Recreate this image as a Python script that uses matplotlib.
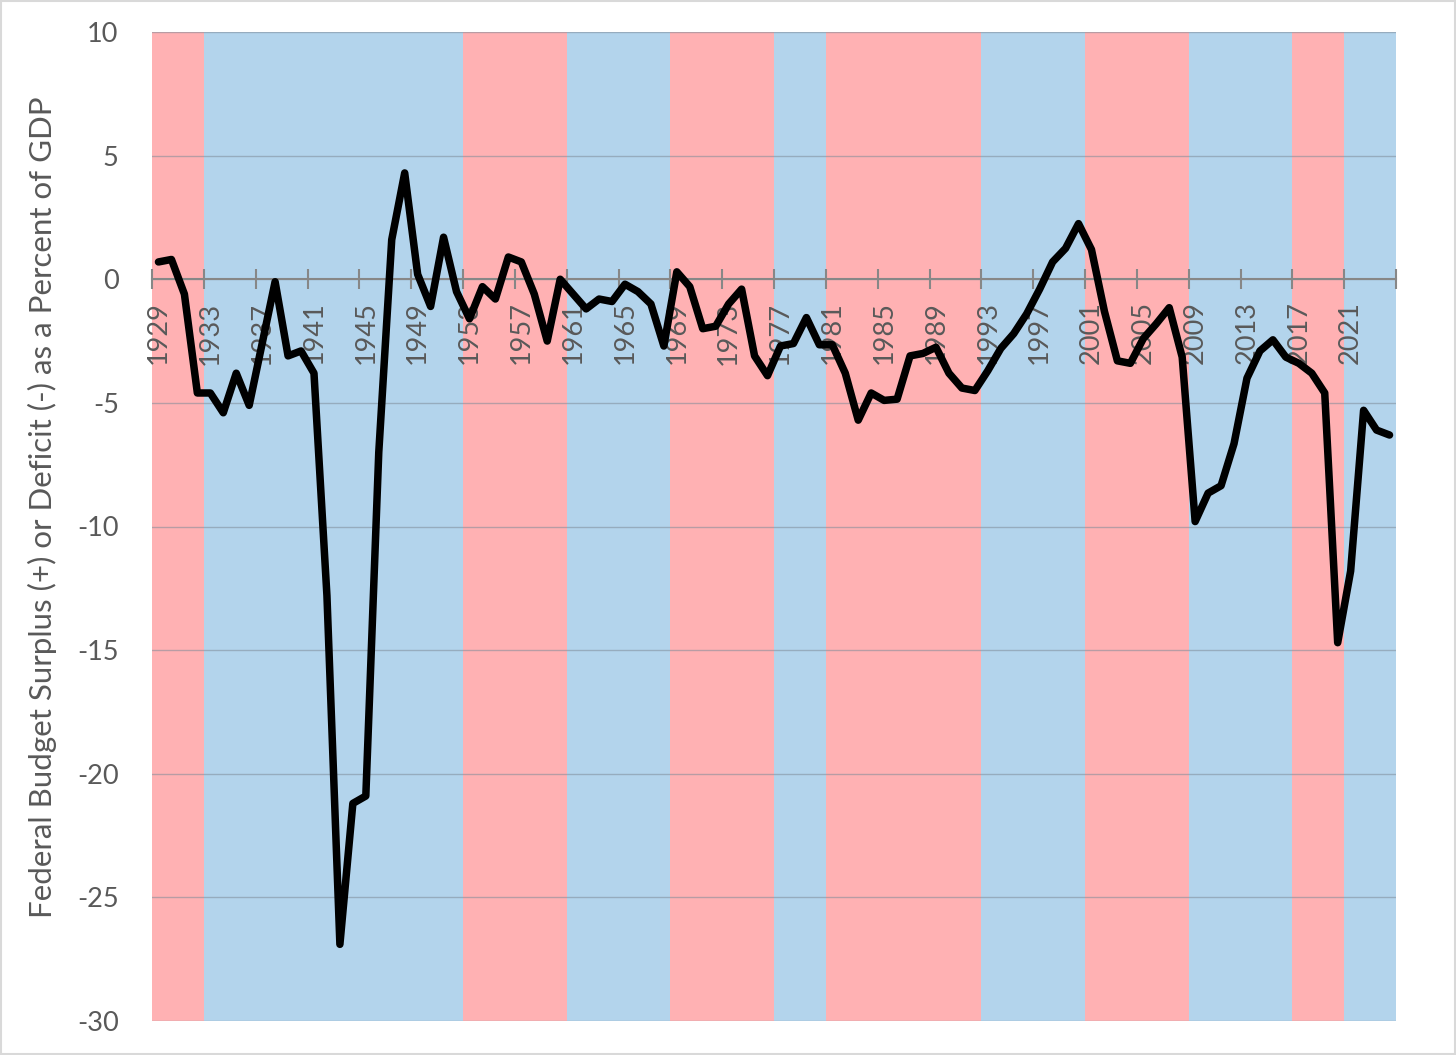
import matplotlib
matplotlib.use("Agg")
import matplotlib.pyplot as plt
import numpy as np
from matplotlib.patches import Rectangle

# surplus (+) / deficit (-) as % of GDP
years = list(range(1929, 2025))
balance = [
    0.7, 0.8, -0.6, -4.6, -4.6, -5.4, -3.8, -5.1, -2.6, -0.1,      # 1929-1938
    -3.1, -2.9, -3.8, -12.8, -26.9, -21.2, -20.9, -7.0, 1.6, 4.3,  # 1939-1948
    0.2, -1.1, 1.7, -0.5, -1.6, -0.3, -0.8, 0.9, 0.7, -0.6,        # 1949-1958
    -2.5, 0.0, -0.6, -1.2, -0.8, -0.9, -0.2, -0.5, -1.0, -2.7,     # 1959-1968
    0.3, -0.3, -2.0, -1.9, -1.0, -0.4, -3.1, -3.9, -2.7, -2.6,     # 1969-1978
    -1.55, -2.65, -2.65, -3.8, -5.7, -4.6, -4.9, -4.85, -3.1, -3.0,  # 1979-1988
    -2.75, -3.8, -4.4, -4.5, -3.7, -2.8, -2.2, -1.4, -0.4, 0.7,    # 1989-1998
    1.25, 2.25, 1.2, -1.3, -3.3, -3.4, -2.4, -1.8, -1.15, -3.15,   # 1999-2008
    -9.8, -8.65, -8.35, -6.65, -4.0, -2.9, -2.45, -3.15, -3.4, -3.8,  # 2009-2018
    -4.6, -14.7, -11.8, -5.3, -6.1, -6.3,                          # 2019-2024
]

# presidential terms: (first year, last year, party)
terms = [
    (1929, 1932, "R"), (1933, 1952, "D"), (1953, 1960, "R"), (1961, 1968, "D"),
    (1969, 1976, "R"), (1977, 1980, "D"), (1981, 1992, "R"), (1993, 2000, "D"),
    (2001, 2008, "R"), (2009, 2016, "D"), (2017, 2020, "R"), (2021, 2024, "D"),
]
party_color = {"R": "#FFB1B3", "D": "#B3D4EC"}

yticks = list(range(-30, 11, 5))
year_labels = list(range(1929, 2025, 4))

plt.rcParams["font.family"] = ["Lato", "DejaVu Sans"]
grey = "#595959"

fig = plt.figure(figsize=(14.56, 10.55), dpi=100)
ax = fig.add_axes([152 / 1456, 1 - 1021 / 1055, 1244 / 1456, 989 / 1055])

for start, end, p in terms:
    ax.axvspan(start - 0.5, end + 0.5, color=party_color[p], lw=0, zorder=0)

for y in yticks:
    ax.axhline(y, color="#7f8c99", lw=1.0, alpha=0.55, zorder=1)

ax.plot(years, balance, color="black", lw=5.4, solid_joinstyle="round",
        solid_capstyle="round", zorder=3)

ax.set_xlim(years[0] - 0.5, years[-1] + 0.5)
ax.set_ylim(-30, 10)

for side in ["top", "right", "left"]:
    ax.spines[side].set_visible(False)
ax.spines["bottom"].set_position(("data", 0))
ax.spines["bottom"].set_color("#878787")
ax.spines["bottom"].set_linewidth(1.5)
ax.spines["bottom"].set_zorder(2)

# tick marks on term-length boundaries, labels centred on the years
ax.set_xticks(np.arange(years[0] - 0.5, years[-1] + 1, 4))
ax.set_xticklabels([])
ax.tick_params(axis="x", which="major", direction="inout", length=15,
               width=1.5, color="#878787")
ax.set_xticks(year_labels, minor=True)
ax.set_xticklabels([str(y) for y in year_labels], minor=True, rotation=90,
                   fontsize=19.5, color=grey)
ax.tick_params(axis="x", which="minor", length=0, pad=16)

ax.set_yticks(yticks)
ax.set_yticklabels([str(y) for y in yticks], fontsize=19.5, color=grey)
ax.tick_params(axis="y", length=0, pad=24)

fig.text(42 / 1456, 1 - 507 / 1055,
         "Federal Budget Surplus (+) or Deficit (-) as a Percent of GDP",
         rotation=90, ha="center", va="center", fontsize=22.5, color=grey)

fig.patches.append(Rectangle((0.001, 0.001), 0.998, 0.998, transform=fig.transFigure,
                             fill=False, edgecolor="#d9d9d9", lw=1.5))

fig.savefig("out.png", dpi=100)
